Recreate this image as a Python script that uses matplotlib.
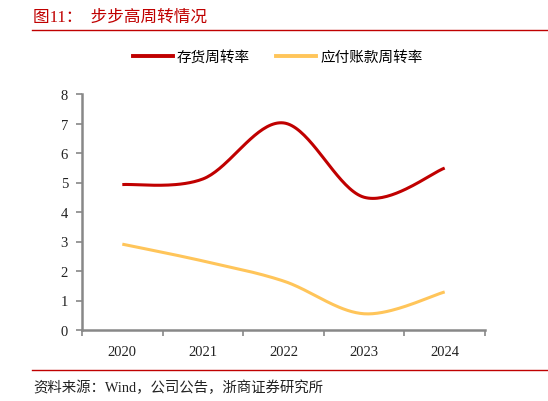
import matplotlib.pyplot as plt
import numpy as np
from matplotlib.lines import Line2D

years = ['2020', '2021', '2022', '2023', '2024']
inventory_turnover = [4.93, 5.12, 7.02, 4.5, 5.49]
payable_turnover = [2.91, 2.34, 1.66, 0.55, 1.29]

RED = '#C00000'
YELLOW = '#FFC55A'
CJK = ['Noto Sans CJK SC', 'DejaVu Sans']
SERIF = ['Liberation Serif', 'Noto Sans CJK SC']


def smooth(x, y, n=40):
    # excel-style smoothed line: cubic bezier through points, Catmull-Rom tangents
    x = np.asarray(x, float)
    y = np.asarray(y, float)
    pts = np.column_stack([x, y])
    out = []
    for i in range(len(pts) - 1):
        p0 = pts[max(i - 1, 0)]
        p1 = pts[i]
        p2 = pts[i + 1]
        p3 = pts[min(i + 2, len(pts) - 1)]
        c1 = p1 + (p2 - p0) / 6
        c2 = p2 - (p3 - p1) / 6
        t = np.linspace(0, 1, n)[:, None]
        seg = ((1 - t) ** 3 * p1 + 3 * (1 - t) ** 2 * t * c1
               + 3 * (1 - t) * t ** 2 * c2 + t ** 3 * p2)
        out.append(seg if i == 0 else seg[1:])
    seg = np.vstack(out)
    return seg[:, 0], seg[:, 1]


fig = plt.figure(figsize=(5.48, 4.02), dpi=100)
ax = fig.add_axes([82 / 548, 1 - 331 / 402, (485 - 82) / 548, (331 - 95) / 402])

xpos = np.arange(len(years))
sx, sy = smooth(xpos, inventory_turnover)
ax.plot(sx, sy, color=RED, lw=2.2, solid_capstyle='butt')
sx, sy = smooth(xpos, payable_turnover)
ax.plot(sx, sy, color=YELLOW, lw=2.2, solid_capstyle='butt')

ax.set_xlim(-0.5, len(years) - 0.5)
ax.set_ylim(0, 8)
ax.set_yticks(range(0, 9))
ax.set_yticklabels([str(v) for v in range(0, 9)], family=SERIF, fontsize=10.5)
ax.set_xticks(xpos)
ax.set_xticklabels(years, family=SERIF, fontsize=10.5)
ax.set_xticks(np.arange(-0.5, len(years)), minor=True)
ax.tick_params(axis='x', which='major', length=0, pad=11, colors='#222222')
ax.tick_params(axis='x', which='minor', length=4, width=1.2, color='#888888')
ax.tick_params(axis='y', length=4, width=1.2, color='#888888', colors='#222222', pad=6)
for side in ['top', 'right']:
    ax.spines[side].set_visible(False)
for side in ['left', 'bottom']:
    ax.spines[side].set_color('#888888')
    ax.spines[side].set_linewidth(1.8)

# legend
handles = [Line2D([], [], color=RED, lw=2.8), Line2D([], [], color=YELLOW, lw=2.8)]
fig.legend(handles, ['存货周转率', '应付账款周转率'], loc='center', bbox_to_anchor=(0.507, 1 - 58 / 402),
           ncol=2, frameon=False, prop={'family': CJK, 'size': 10.5}, handlelength=2.7,
           columnspacing=1.8, handletextpad=0.3)

# header and footer
fig.text(33 / 548, 1 - 18 / 402, '图11：  步步高周转情况', color=RED, fontsize=12,
         family=SERIF, va='center', ha='left')
fig.add_artist(Line2D([32 / 548, 1], [1 - 31 / 402] * 2, color=RED, lw=1.0))
fig.add_artist(Line2D([32 / 548, 1], [1 - 371 / 402] * 2, color=RED, lw=1.0))
fig.text(33 / 548, 1 - 388 / 402, '资料来源：Wind，公司公告，浙商证券研究所', color='#222222',
         fontsize=10.4, family=SERIF, va='center', ha='left')

fig.savefig('out.png', dpi=100)
